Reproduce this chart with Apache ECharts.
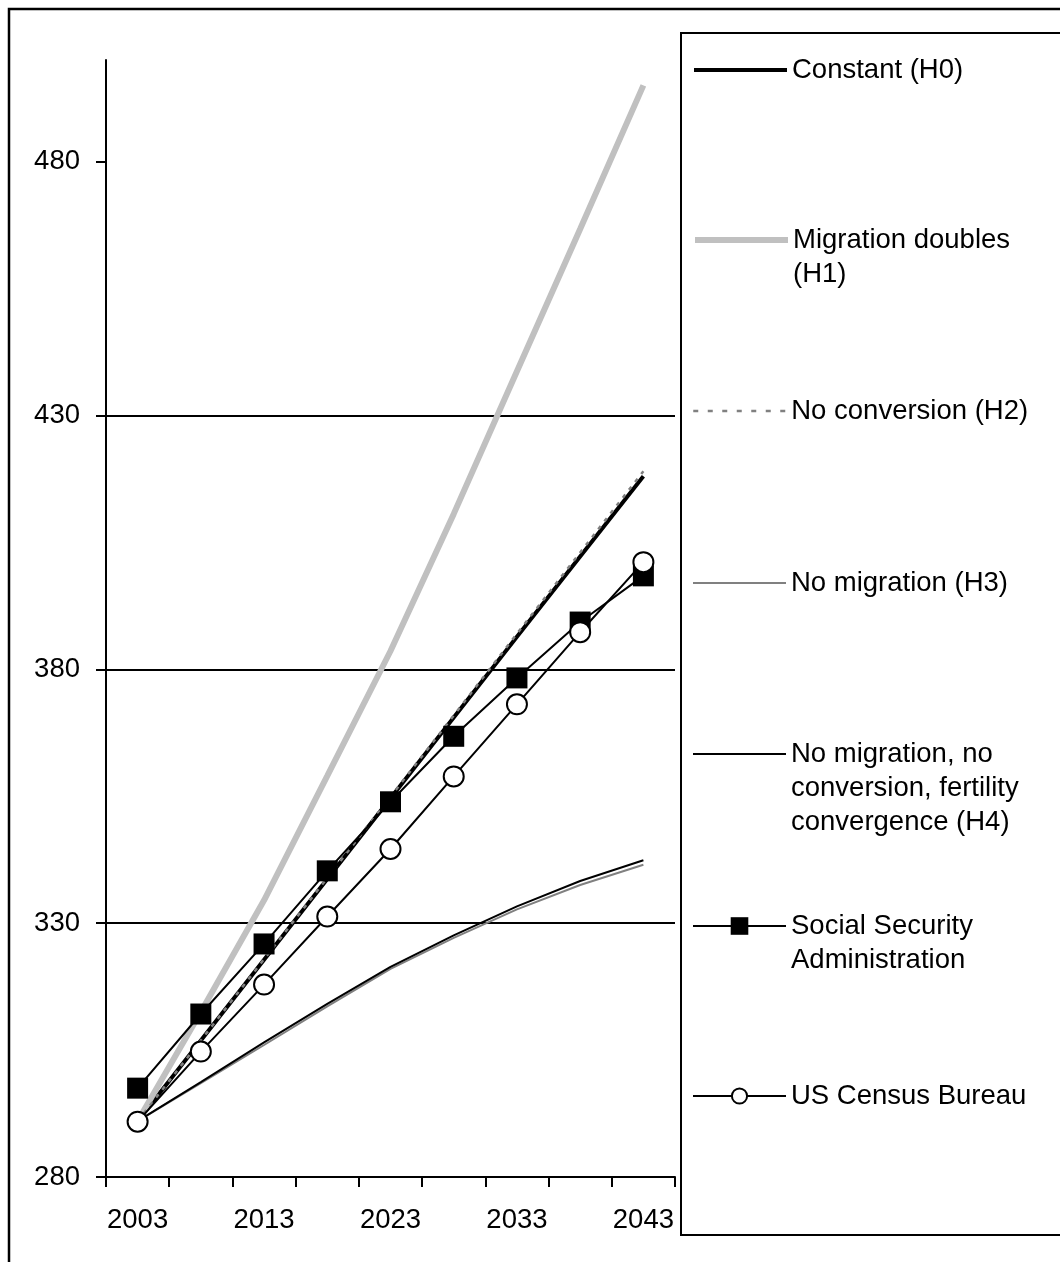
<!DOCTYPE html>
<html>
<head>
<meta charset="utf-8">
<style>
  html, body { margin: 0; padding: 0; background: #fff; }
  #chart { width: 1060px; height: 1262px; }
</style>
<script src="https://cdn.jsdelivr.net/npm/echarts@6/dist/echarts.min.js"></script>
</head>
<body>
<div id="chart"></div>
<script>
// ---- data ----
const years = ['2003', '2008', '2013', '2018', '2023', '2028', '2033', '2038', '2043'];
const yTicks = [280, 330, 380, 430, 480];

const constantH0        = [291.0, 306.9, 322.8, 338.7, 354.6, 370.5, 386.4, 402.2, 418.0];
const migrationDoubles  = [291.0, 312.5, 334.5, 359.0, 383.6, 410.6, 438.7, 466.7, 495.0];
const noConversionH2    = [291.0, 306.9, 322.9, 338.9, 354.9, 370.9, 387.0, 403.0, 419.0];
const noMigrationH3     = [291.0, 298.5, 306.0, 313.6, 321.0, 327.1, 332.7, 337.5, 341.5];
const noMigConvFertH4   = [291.0, 298.7, 306.5, 314.1, 321.4, 327.6, 333.3, 338.3, 342.4];
const socialSecurity    = [297.5, 312.1, 325.9, 340.3, 353.9, 366.8, 378.3, 389.3, 398.4];
const censusBureau      = [290.9, 304.7, 317.9, 331.3, 344.6, 358.9, 373.1, 387.3, 401.1];

const seriesNames = [
  'Constant (H0)',
  'Migration doubles (H1)',
  'No conversion (H2)',
  'No migration (H3)',
  'No migration, no conversion, fertility convergence (H4)',
  'Social Security Administration',
  'US Census Bureau'
];
const legendLabels = [
  'Constant (H0)',
  'Migration doubles\n(H1)',
  'No conversion (H2)',
  'No migration (H3)',
  'No migration, no\nconversion, fertility\nconvergence (H4)',
  'Social Security\nAdministration',
  'US Census Bureau'
];

// ---- styling ----
const FONT = '"Liberation Sans", Arial, Helvetica, sans-serif';
const FS = 27.5;
const LH = 34;
const legendCenters = [70, 240, 411, 583, 754, 926, 1096];

function makeLegend(i, opts) {
  const nLines = legendLabels[i].split('\n').length;
  // blank lines above keep the first text line level with the legend symbol
  const shown = '\n'.repeat(nLines - 1) + legendLabels[i];
  const top = legendCenters[i] - (2 * nLines - 1) * LH / 2;
  return Object.assign({
    left: 692,
    top: top,
    orient: 'vertical',
    padding: 0,
    selectedMode: false,
    itemWidth: 93,
    itemHeight: 14,
    data: [seriesNames[i]],
    formatter: function () { return shown; },
    textStyle: {
      fontFamily: FONT, fontSize: FS, color: '#000', lineHeight: LH
    },
    itemStyle: { color: 'rgba(0,0,0,0)', borderWidth: 0 }
  }, opts);
}

const chart = echarts.init(document.getElementById('chart'), null, { renderer: 'canvas' });

const option = {
  animation: false,
  backgroundColor: '#fff',
  textStyle: { fontFamily: FONT },
  graphic: [
    {
      type: 'rect', silent: true, z: -1,
      shape: { x: 9, y: 9, width: 1200, height: 1400 },
      style: { fill: 'none', stroke: '#000', lineWidth: 2.5 }
    },
    {
      type: 'rect', silent: true, z: -1,
      shape: { x: 681, y: 33, width: 500, height: 1202 },
      style: { fill: 'none', stroke: '#000', lineWidth: 2 }
    }
  ],
  legend: [
    makeLegend(0, { lineStyle: { width: 4, color: '#000' } }),
    makeLegend(1, { lineStyle: { width: 6, color: '#c0c0c0' } }),
    makeLegend(2, { lineStyle: { width: 2.5, color: '#808080', type: [5, 9.5] } }),
    makeLegend(3, { lineStyle: { width: 2, color: '#808080' } }),
    makeLegend(4, { lineStyle: { width: 2, color: '#000' } }),
    makeLegend(5, {
      itemHeight: 22,
      lineStyle: { width: 2, color: '#000' },
      itemStyle: { color: '#000', borderWidth: 0 }
    }),
    makeLegend(6, {
      itemHeight: 19,
      lineStyle: { width: 2, color: '#000' },
      itemStyle: { color: '#fff', borderColor: '#000', borderWidth: 2 }
    })
  ],
  grid: { left: 106, right: 385, top: 60, bottom: 85, containLabel: false },
  xAxis: {
    type: 'category',
    data: years,
    boundaryGap: true,
    axisLine: { show: true, lineStyle: { color: '#000', width: 2 } },
    axisTick: { show: true, interval: 0, length: 10, inside: false, lineStyle: { color: '#000', width: 2 } },
    axisLabel: { interval: 1, margin: 29, color: '#000', fontFamily: FONT, fontSize: FS },
    splitLine: { show: false }
  },
  yAxis: {
    type: 'value',
    min: 280,
    max: 500,
    interval: 50,
    axisLine: { show: true, lineStyle: { color: '#000', width: 2 } },
    axisTick: { show: true, length: 10, customValues: yTicks, lineStyle: { color: '#000', width: 2 } },
    axisLabel: { customValues: yTicks, margin: 26, color: '#000', fontFamily: FONT, fontSize: FS,
      formatter: function (v) { return v === 500 ? '' : String(v); } },
    splitLine: { show: true, showMinLine: false, showMaxLine: false, lineStyle: { color: '#000', width: 2 } }
  },
  series: [
    { name: seriesNames[0], type: 'line', data: constantH0, symbol: 'none',
      lineStyle: { color: '#000', width: 4 }, itemStyle: { color: '#000' } },
    { name: seriesNames[1], type: 'line', data: migrationDoubles, symbol: 'none',
      lineStyle: { color: '#c0c0c0', width: 6 }, itemStyle: { color: '#c0c0c0' } },
    { name: seriesNames[2], type: 'line', data: noConversionH2, symbol: 'none',
      lineStyle: { color: '#808080', width: 2.5, type: [4, 6] }, itemStyle: { color: '#808080' } },
    { name: seriesNames[3], type: 'line', data: noMigrationH3, symbol: 'none',
      lineStyle: { color: '#808080', width: 2 }, itemStyle: { color: '#808080' } },
    { name: seriesNames[4], type: 'line', data: noMigConvFertH4, symbol: 'none',
      lineStyle: { color: '#000', width: 2 }, itemStyle: { color: '#000' } },
    { name: seriesNames[5], type: 'line', data: socialSecurity, symbol: 'rect', symbolSize: 21,
      showAllSymbol: true,
      lineStyle: { color: '#000', width: 2 }, itemStyle: { color: '#000', borderWidth: 0 } },
    { name: seriesNames[6], type: 'line', data: censusBureau, symbol: 'circle', symbolSize: 20,
      showAllSymbol: true,
      lineStyle: { color: '#000', width: 2 }, itemStyle: { color: '#fff', borderColor: '#000', borderWidth: 2 } }
  ]
};

chart.setOption(option);
</script>
</body>
</html>
